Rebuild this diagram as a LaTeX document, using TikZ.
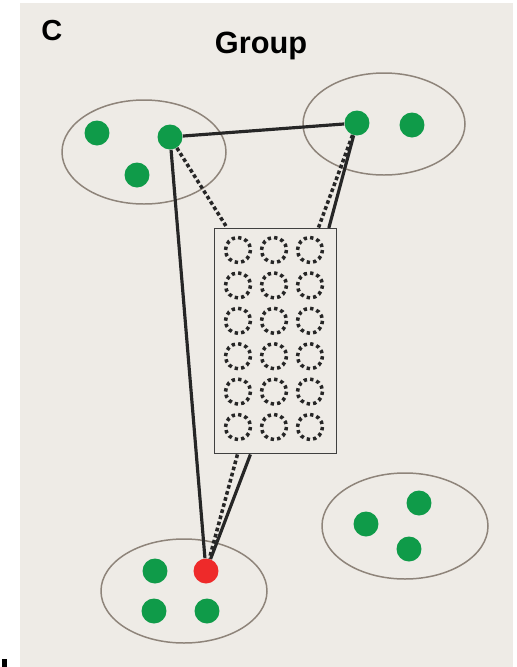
\documentclass[tikz,border=0pt]{standalone}
\usepackage{fontspec}
\setmainfont{Liberation Sans}
\usetikzlibrary{calc}

\definecolor{paper}{HTML}{EEEBE6}
\definecolor{memb}{HTML}{0F9B49}
\definecolor{focal}{HTML}{EE2A2A}
\definecolor{rim}{HTML}{8E847A}

\begin{document}
\begin{tikzpicture}[x=0.02cm, y=-0.02cm,
		member/.style={circle, fill=memb, minimum size=0.5cm, inner sep=0pt},
		group/.style={draw=rim, line width=0.85pt},
		tie/.style={line width=1.8pt, black!85},
		weak/.style={line width=2pt, black!85, dash pattern=on 2.1pt off 1.5pt},
		ring/.style={line width=2pt, black!85, dash pattern=on 1.9pt off 1.81pt}]
			\useasboundingbox (0,0) rectangle (517,667);
			\fill [paper] (20,3) rectangle (513,667);
			\fill [black] (2,659) rectangle (7,667);
			\node [font=\bfseries\fontsize{16.5}{18}\selectfont, anchor=base west, inner sep=0pt] (panel) at (41,40) {C};
			\node [font=\bfseries\fontsize{17.5}{20}\selectfont, anchor=base, inner sep=0pt] (title) at (261,53) {Group};
			% the four groups
			\draw [group] (144,152) ellipse (82 and 52);
			\draw [group] (384,124) ellipse (81 and 51);
			\draw [group] (405,526) ellipse (83 and 53);
			\draw [group] (184,591) ellipse (83 and 52);
			\node [member] (a1) at (97,133) {};
			\node [member] (a2) at (170,137) {};
			\node [member] (a3) at (137,175) {};
			\node [member] (b1) at (357,123) {};
			\node [member] (b2) at (412,125) {};
			\node [member] (c1) at (366,524) {};
			\node [member] (c2) at (419,503) {};
			\node [member] (c3) at (409,549) {};
			\node [member] (d1) at (155,571) {};
			\node [member, fill=focal] (ego) at (206,571) {};
			\node [member] (d2) at (154,611) {};
			\node [member] (d3) at (207,611) {};
			% the pool in the middle
			\node [draw=black!75, line width=0.85pt, fill=paper, minimum width=2.44cm, minimum height=4.5cm, inner sep=0pt, anchor=north west] (pool) at (214,228) {};
			\foreach \c in {0,1,2}
				\foreach \r in {0,...,5}
					\draw [ring] ($(pool.north west)+(24+36*\c,22+35.4*\r)$) circle (12.5);
			\coordinate (inA) at ($(pool.north west)!0.107!(pool.north east)$);
			\coordinate (inB) at ($(pool.north west)!0.845!(pool.north east)$);
			\coordinate (inC) at ($(pool.north west)!0.93!(pool.north east)$);
			\coordinate (outA) at ($(pool.south west)!0.19!(pool.south east)$);
			\coordinate (outC) at ($(pool.south west)!0.295!(pool.south east)$);
			% ties
			\draw [tie] (a2) -- (b1);
			\draw [tie] (a2) -- (ego);
			\draw [tie] (b1) -- (inC);
			\draw [tie] (outC) -- (ego);
			\draw [weak] (a2) -- (inA);
			\draw [weak] (b1) -- (inB);
			\draw [weak] (outA) -- (ego);
		\end{tikzpicture}
\end{document}
